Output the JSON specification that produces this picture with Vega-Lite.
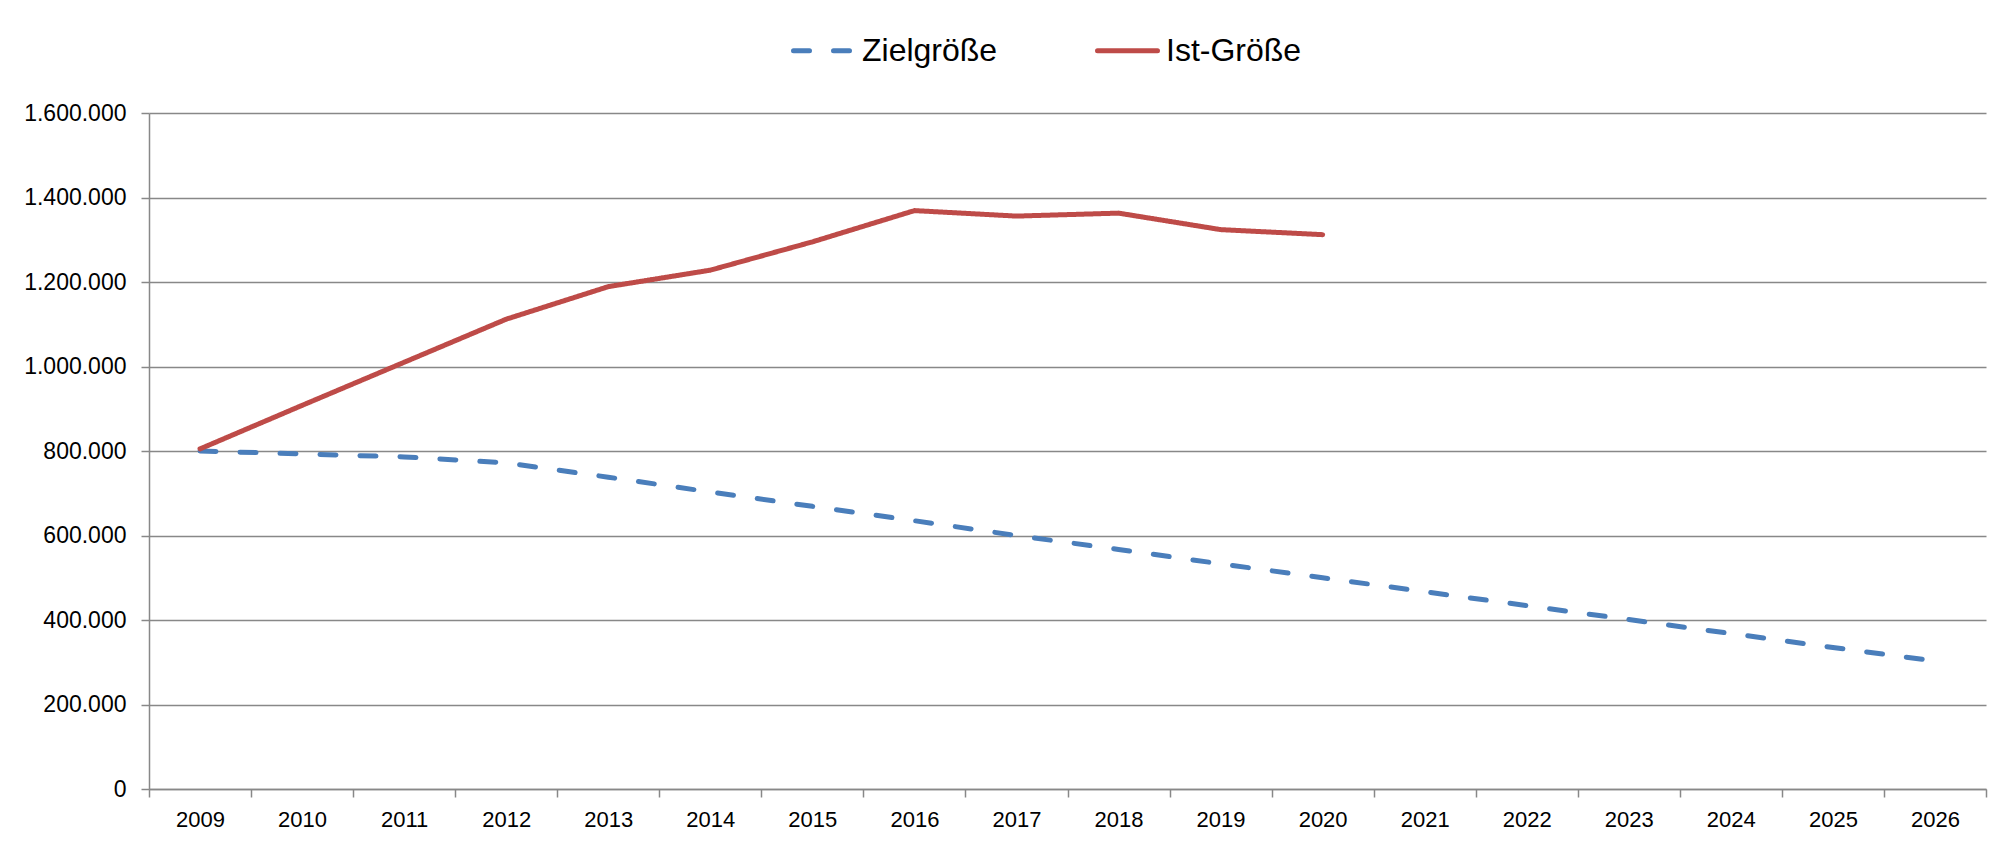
{
  "$schema": "https://vega.github.io/schema/vega-lite/v6.json",
  "width": 1837,
  "height": 676,
  "autosize": {"type": "none"},
  "padding": {"left": 149, "top": 113, "right": 13, "bottom": 59},
  "background": "#ffffff",
  "config": {
    "locale": {"number": {"decimal": ",", "thousands": ".", "grouping": [3], "currency": ["", " €"]}},
    "view": {"stroke": null},
    "font": "Liberation Sans"
  },
  "data": {
    "values": [
      {"Jahr": 2009, "Reihe": "Zielgröße", "Wert": 800000},
      {"Jahr": 2010, "Reihe": "Zielgröße", "Wert": 793000},
      {"Jahr": 2011, "Reihe": "Zielgröße", "Wert": 786000},
      {"Jahr": 2012, "Reihe": "Zielgröße", "Wert": 772000},
      {"Jahr": 2013, "Reihe": "Zielgröße", "Wert": 738000},
      {"Jahr": 2014, "Reihe": "Zielgröße", "Wert": 703000},
      {"Jahr": 2015, "Reihe": "Zielgröße", "Wert": 669000},
      {"Jahr": 2016, "Reihe": "Zielgröße", "Wert": 635000},
      {"Jahr": 2017, "Reihe": "Zielgröße", "Wert": 600000},
      {"Jahr": 2018, "Reihe": "Zielgröße", "Wert": 567000},
      {"Jahr": 2019, "Reihe": "Zielgröße", "Wert": 533000},
      {"Jahr": 2020, "Reihe": "Zielgröße", "Wert": 500000},
      {"Jahr": 2021, "Reihe": "Zielgröße", "Wert": 467000},
      {"Jahr": 2022, "Reihe": "Zielgröße", "Wert": 434000},
      {"Jahr": 2023, "Reihe": "Zielgröße", "Wert": 401000},
      {"Jahr": 2024, "Reihe": "Zielgröße", "Wert": 368000},
      {"Jahr": 2025, "Reihe": "Zielgröße", "Wert": 335000},
      {"Jahr": 2026, "Reihe": "Zielgröße", "Wert": 303000},
      {"Jahr": 2009, "Reihe": "Ist-Größe", "Wert": 805000},
      {"Jahr": 2010, "Reihe": "Ist-Größe", "Wert": 908000},
      {"Jahr": 2011, "Reihe": "Ist-Größe", "Wert": 1010000},
      {"Jahr": 2012, "Reihe": "Ist-Größe", "Wert": 1112000},
      {"Jahr": 2013, "Reihe": "Ist-Größe", "Wert": 1189000},
      {"Jahr": 2014, "Reihe": "Ist-Größe", "Wert": 1228000},
      {"Jahr": 2015, "Reihe": "Ist-Größe", "Wert": 1295000},
      {"Jahr": 2016, "Reihe": "Ist-Größe", "Wert": 1369000},
      {"Jahr": 2017, "Reihe": "Ist-Größe", "Wert": 1356000},
      {"Jahr": 2018, "Reihe": "Ist-Größe", "Wert": 1363000},
      {"Jahr": 2019, "Reihe": "Ist-Größe", "Wert": 1324000},
      {"Jahr": 2020, "Reihe": "Ist-Größe", "Wert": 1312000}
    ]
  },
  "mark": {"type": "line", "strokeWidth": 5, "strokeCap": "round", "strokeJoin": "round"},
  "encoding": {
    "x": {
      "field": "Jahr",
      "type": "quantitative",
      "scale": {"domain": [2008.5, 2026.5], "nice": false, "zero": false},
      "axis": {
        "title": null,
        "values": [2008.5, 2009.5, 2010.5, 2011.5, 2012.5, 2013.5, 2014.5, 2015.5, 2016.5, 2017.5, 2018.5, 2019.5, 2020.5, 2021.5, 2022.5, 2023.5, 2024.5, 2025.5, 2026.5],
        "labelExpr": "datum.value < 2026 ? format(datum.value + 0.5, 'd') : ''",
        "labelOffset": 51,
        "labelFlush": false,
        "labelOverlap": false,
        "labelBound": false,
        "grid": false,
        "domainColor": "#888888",
        "domainWidth": 1.5,
        "tickColor": "#888888",
        "tickWidth": 1.5,
        "tickSize": 8,
        "labelFontSize": 22,
        "labelPadding": 12,
        "labelColor": "#000000"
      }
    },
    "y": {
      "field": "Wert",
      "type": "quantitative",
      "scale": {"domain": [0, 1600000], "nice": false},
      "axis": {
        "title": null,
        "values": [0, 200000, 400000, 600000, 800000, 1000000, 1200000, 1400000, 1600000],
        "format": ",d",
        "grid": true,
        "gridColor": "#888888",
        "gridWidth": 1.5,
        "domainColor": "#888888",
        "domainWidth": 1.5,
        "tickColor": "#888888",
        "tickWidth": 1.5,
        "tickSize": 8,
        "labelFontSize": 23,
        "labelPadding": 15,
        "labelColor": "#000000"
      }
    },
    "color": {
      "field": "Reihe",
      "type": "nominal",
      "scale": {"domain": ["Zielgröße", "Ist-Größe"], "range": ["#4A7EBB", "#BE4B48"]},
      "legend": {
        "orient": "none",
        "legendX": 642,
        "legendY": -95,
        "direction": "horizontal",
        "title": null,
        "symbolType": "stroke",
        "symbolSize": 3600,
        "symbolStrokeWidth": 5,
        "labelFontSize": 32,
        "labelOffset": 6,
        "columnPadding": 89,
        "labelColor": "#000000",
        "encode": {"symbols": {"update": {"strokeCap": {"value": "round"}}}}
      }
    },
    "strokeDash": {
      "field": "Reihe",
      "type": "nominal",
      "scale": {"domain": ["Zielgröße", "Ist-Größe"], "range": [[16, 24], [1, 0]]},
      "legend": {
        "orient": "none",
        "legendX": 642,
        "legendY": -95,
        "direction": "horizontal",
        "title": null,
        "symbolType": "stroke",
        "symbolSize": 3600,
        "symbolStrokeWidth": 5,
        "labelFontSize": 32,
        "labelOffset": 6,
        "columnPadding": 89,
        "labelColor": "#000000",
        "encode": {"symbols": {"update": {"strokeCap": {"value": "round"}}}}
      }
    }
  }
}
